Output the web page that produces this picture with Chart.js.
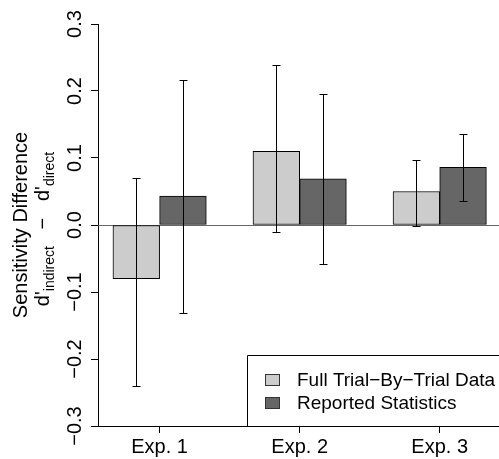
<!DOCTYPE html>
<html>
<head>
<meta charset="utf-8">
<script src="https://cdn.jsdelivr.net/npm/chart.js@4/dist/chart.umd.min.js"></script>
<style>
  body { margin: 0; background: white; overflow: hidden; }
</style>
</head>
<body>
<canvas id="myChart" width="499" height="459"></canvas>
<script>
// data
const categories = ["Exp. 1", "Exp. 2", "Exp. 3"];
const seriesNames = ["Full Trial\u2212By\u2212Trial Data", "Reported Statistics"];
const fullData = [-0.080, 0.110, 0.050];
const fullLow = [-0.240, -0.010, -0.002];
const fullHigh = [0.070, 0.239, 0.097];
const reportedData = [0.043, 0.069, 0.086];
const reportedLow = [-0.131, -0.058, 0.036];
const reportedHigh = [0.216, 0.196, 0.136];
const yTicks = [-0.3, -0.2, -0.1, 0.0, 0.1, 0.2, 0.3];

const FONT = "'Liberation Sans', Arial, Helvetica, sans-serif";

// R barplot layout: groups of two bars, one bar-width gap before each group
const groupCenter = (i) => 3 * i + 2;
const toPoints = (vals, shift) => vals.map((v, i) => ({ x: groupCenter(i) + shift, y: v }));

const errorBars = {
  id: 'errorBars',
  afterDatasetsDraw(chart) {
    const { ctx, scales: { x, y } } = chart;
    const sets = [[fullLow, fullHigh, -0.5], [reportedLow, reportedHigh, 0.5]];
    ctx.save();
    ctx.strokeStyle = '#000';
    ctx.lineWidth = 1;
    sets.forEach(([lo, hi, shift]) => {
      lo.forEach((l, i) => {
        const px = Math.round(x.getPixelForValue(groupCenter(i) + shift)) + 0.5;
        const y1 = Math.round(y.getPixelForValue(l)) + 0.5;
        const y2 = Math.round(y.getPixelForValue(hi[i])) + 0.5;
        ctx.beginPath();
        ctx.moveTo(px, y1); ctx.lineTo(px, y2);
        ctx.moveTo(px - 4, y1); ctx.lineTo(px + 4, y1);
        ctx.moveTo(px - 4, y2); ctx.lineTo(px + 4, y2);
        ctx.stroke();
      });
    });
    ctx.restore();
  }
};

const zeroLine = {
  id: 'zeroLine',
  beforeDatasetsDraw(chart) {
    const { ctx, chartArea, scales: { y } } = chart;
    const py = Math.round(y.getPixelForValue(0)) + 0.5;
    ctx.save();
    ctx.strokeStyle = '#666';
    ctx.lineWidth = 1;
    ctx.beginPath();
    ctx.moveTo(chartArea.left, py);
    ctx.lineTo(chartArea.right, py);
    ctx.stroke();
    ctx.restore();
  }
};

const axisText = {
  id: 'axisText',
  afterDraw(chart) {
    const { ctx, scales: { y } } = chart;
    const mid = (chart.chartArea.top + chart.chartArea.bottom) / 2;
    ctx.save();
    ctx.fillStyle = '#000';
    // rotated y tick labels
    ctx.font = '20px ' + FONT;
    ctx.textAlign = 'center';
    ctx.textBaseline = 'alphabetic';
    yTicks.forEach((v) => {
      const py = y.getPixelForValue(v);
      const txt = (Math.abs(v) < 1e-9 ? 0 : v).toFixed(1).replace('-', '\u2212');
      ctx.save();
      ctx.translate(81, py);
      ctx.rotate(-Math.PI / 2);
      ctx.fillText(txt, 0, 0);
      ctx.restore();
    });
    // y title, line 1
    ctx.save();
    ctx.translate(27, mid);
    ctx.rotate(-Math.PI / 2);
    ctx.fillText('Sensitivity Difference', 0, 0);
    ctx.restore();
    // y title, line 2 with subscripts
    const parts = [
      ["d'", 20, 0], ['indirect', 14, 5], ['   \u2212   ', 20, 0], ["d'", 20, 0], ['direct', 14, 5]
    ];
    let total = 0;
    parts.forEach((p) => { ctx.font = p[1] + 'px ' + FONT; total += ctx.measureText(p[0]).width; });
    ctx.save();
    ctx.translate(49, mid + 4);
    ctx.rotate(-Math.PI / 2);
    ctx.textAlign = 'left';
    let cx = -total / 2;
    parts.forEach((p) => {
      ctx.font = p[1] + 'px ' + FONT;
      ctx.fillText(p[0], cx, p[2]);
      cx += ctx.measureText(p[0]).width;
    });
    ctx.restore();
    ctx.restore();
  }
};

const boxLegend = {
  id: 'boxLegend',
  afterDraw(chart) {
    const { ctx, chartArea } = chart;
    ctx.save();
    ctx.fillStyle = '#fff';
    ctx.fillRect(248, 356, chartArea.right - 248, chartArea.bottom - 356);
    ctx.strokeStyle = '#000';
    ctx.lineWidth = 1;
    ctx.beginPath();
    ctx.moveTo(247.5, chartArea.bottom);
    ctx.lineTo(247.5, 355.5);
    ctx.lineTo(chartArea.right + 5, 355.5);
    ctx.stroke();
    ctx.font = '19px ' + FONT;
    ctx.textBaseline = 'middle';
    ctx.textAlign = 'left';
    chart.data.datasets.forEach((ds, i) => {
      const cy = 380 + i * 23;
      ctx.fillStyle = ds.backgroundColor;
      ctx.fillRect(265.5, cy - 5.5, 14, 11);
      ctx.strokeStyle = '#333';
      ctx.strokeRect(265.5, cy - 5.5, 14, 11);
      ctx.fillStyle = '#000';
      ctx.fillText(ds.label, 297, cy + 1);
    });
    ctx.restore();
  }
};

const ctx = document.getElementById('myChart');

new Chart(ctx, {
  type: 'bar',
  plugins: [zeroLine, errorBars, boxLegend, axisText],
  data: {
    datasets: [
      {
        label: seriesNames[0],
        data: toPoints(fullData, -0.5),
        backgroundColor: '#cccccc',
        borderColor: '#000',
        borderWidth: 1,
        borderSkipped: false,
        grouped: false,
        barPercentage: 1,
        categoryPercentage: 1,
      },
      {
        label: seriesNames[1],
        data: toPoints(reportedData, 0.5),
        backgroundColor: '#666666',
        borderColor: '#000',
        borderWidth: 1,
        borderSkipped: false,
        grouped: false,
        barPercentage: 1,
        categoryPercentage: 1,
      },
    ],
  },
  options: {
    responsive: false,
    animation: false,
    layout: { padding: { top: 24, right: 0, bottom: 0, left: 0 } },
    plugins: {
      legend: { display: false },
      tooltip: { enabled: false },
    },
    scales: {
      x: {
        type: 'linear',
        offset: false,
        min: 0.68,
        max: 9.27,
        afterBuildTicks: (s) => { s.ticks = categories.map((c, i) => ({ value: groupCenter(i) })); },
        afterFit: (s) => { s.height = 33; },
        grid: { offset: false, drawOnChartArea: false, drawTicks: true, tickLength: 7, color: '#000' },
        border: { display: true, color: '#000', width: 1 },
        ticks: {
          autoSkip: false,
          maxRotation: 0,
          padding: 2,
          color: '#000',
          font: { family: FONT, size: 20 },
          callback: (v, i) => categories[i],
        },
      },
      y: {
        type: 'linear',
        min: -0.3,
        max: 0.3,
        afterBuildTicks: (s) => { s.ticks = yTicks.map((v) => ({ value: v })); },
        afterFit: (s) => { s.width = 98; },
        grid: { drawOnChartArea: false, drawTicks: true, tickLength: 7, color: '#000' },
        border: { display: true, color: '#000', width: 1 },
        ticks: { display: false },
      },
    },
  },
});
</script>
</body>
</html>
